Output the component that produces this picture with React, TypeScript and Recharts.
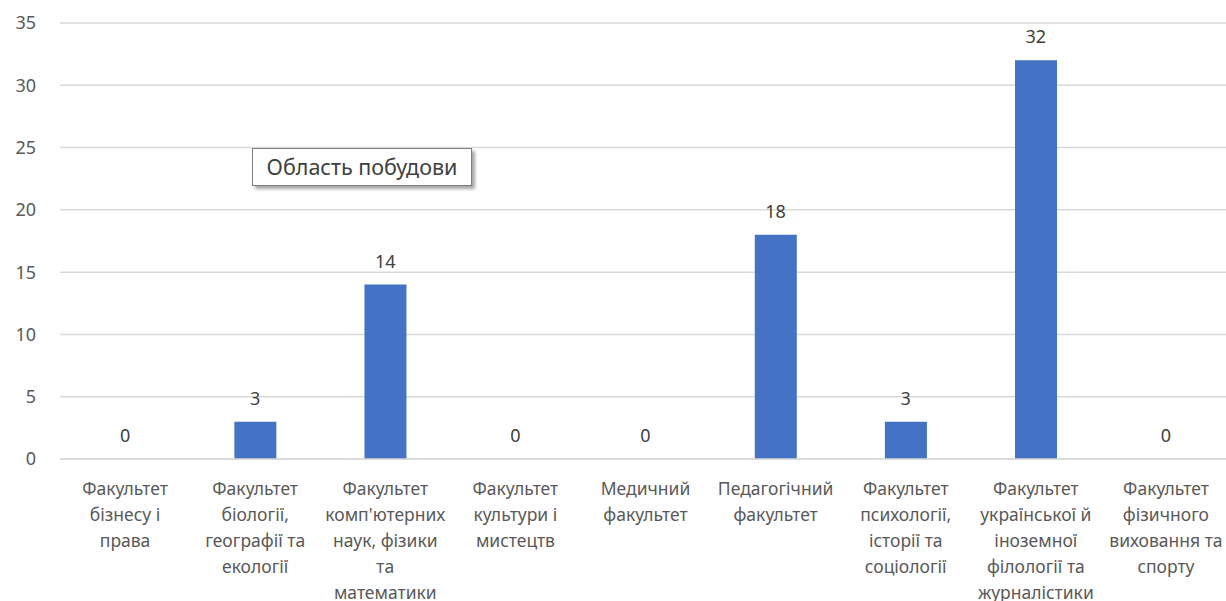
import React from 'react';
import { ComposedChart, Bar, Line, XAxis, YAxis, CartesianGrid, LabelList } from 'recharts';

// Faculty names, with line breaks as they wrap in the original
const faculties = [
  'Факультет\nбізнесу і\nправа',
  'Факультет\nбіології,\nгеографії та\nекології',
  "Факультет\nкомп'ютерних\nнаук, фізики\nта\nматематики",
  'Факультет\nкультури і\nмистецтв',
  'Медичний\nфакультет',
  'Педагогічний\nфакультет',
  'Факультет\nпсихології,\nісторії та\nсоціології',
  'Факультет\nукраїнської й\nіноземної\nфілології та\nжурналістики',
  'Факультет\nфізичного\nвиховання та\nспорту',
];

const counts = [0, 3, 14, 0, 0, 18, 3, 32, 0];

const yTicks = [0, 5, 10, 15, 20, 25, 30, 35];

const data = faculties.map((name, i) => ({ name, value: counts[i] }));

const FONT = '"Noto Sans", "Open Sans", sans-serif';

const CategoryTick = (props: any) => {
  const { x, y, payload } = props;
  const lines = String(payload.value).split('\n');
  return (
    <g transform={`translate(${x},${y})`}>
      <text textAnchor="middle" fill="#595959" fontSize={17.5} fontFamily={FONT}>
        {lines.map((line, i) => (
          <tspan key={i} x={0} dy={i === 0 ? 28 : 26}>
            {line}
          </tspan>
        ))}
      </text>
    </g>
  );
};

const App: React.FC = () => {
  return (
    <div style={{ position: 'absolute', left: 0, top: 0, width: 1226, height: 601, overflow: 'hidden', background: '#fff' }}>
      <ComposedChart
        width={1231}
        height={601}
        data={data}
        margin={{ top: 23, right: 0, bottom: 0, left: 0 }}
        barCategoryGap="34%"
      >
        <CartesianGrid vertical={false} stroke="#d9d9d9" strokeWidth={1.5} />
        <XAxis
          dataKey="name"
          interval={0}
          height={142}
          axisLine={{ stroke: '#d9d9d9', strokeWidth: 1.5 }}
          tickLine={false}
          tick={<CategoryTick />}
        />
        <YAxis
          width={60}
          domain={[0, 35]}
          ticks={yTicks}
          axisLine={false}
          tickLine={false}
          tickSize={0}
          tickMargin={24}
          tick={{ fill: '#595959', fontSize: 18, fontFamily: FONT }}
        />
        <Bar dataKey="value" fill="#4472c4" isAnimationActive={false} />
        {/* invisible series carrying the value labels, so zeros get a label too */}
        <Line dataKey="value" stroke="none" dot={false} activeDot={false} isAnimationActive={false} legendType="none">
          <LabelList
            dataKey="value"
            position="top"
            offset={17}
            fill="#404040"
            fontSize={18}
            fontFamily={FONT}
          />
        </Line>
      </ComposedChart>
      <div
        style={{
          position: 'absolute',
          left: 252,
          top: 148,
          width: 220,
          height: 38,
          border: '1px solid #7f7f7f',
          background: '#fff',
          boxShadow: '3px 3px 3px rgba(0,0,0,0.35)',
          fontFamily: FONT,
          fontSize: 21.5,
          color: '#404040',
          lineHeight: '36px',
          textAlign: 'center',
          boxSizing: 'border-box',
        }}
      >
        Область побудови
      </div>
    </div>
  );
};

export default App;
